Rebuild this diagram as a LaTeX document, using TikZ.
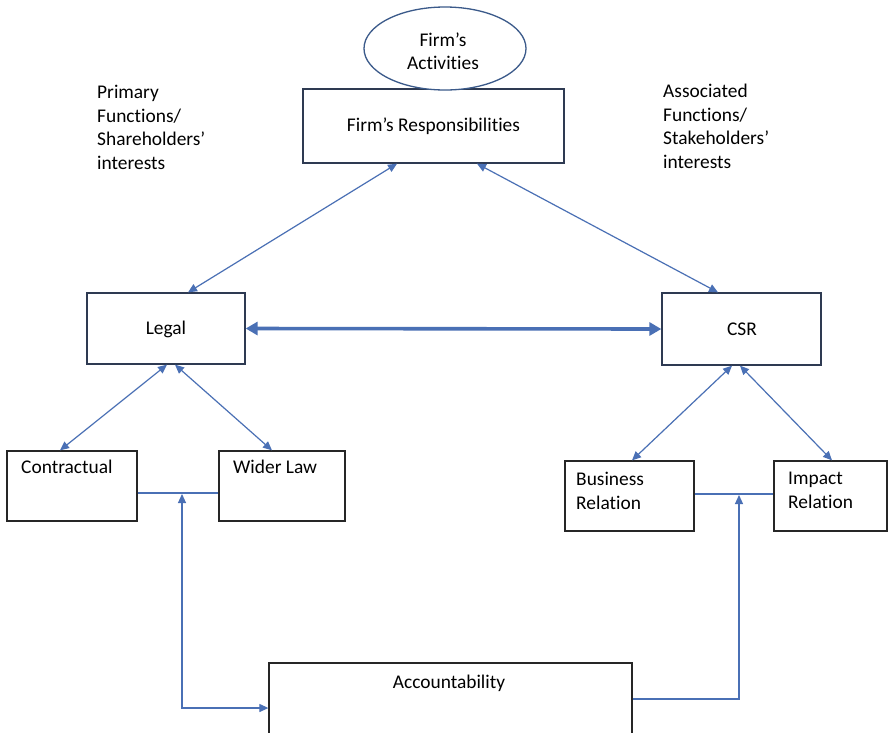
\documentclass[tikz,border=0pt]{standalone}
\usepackage{fontspec}
\setmainfont{Carlito}[Ligatures={NoCommon,NoContextual}]
\usetikzlibrary{shapes.geometric,arrows.meta}
\definecolor{arrblue}{HTML}{4A70B5}
\definecolor{boxedge}{HTML}{2E3A52}
\definecolor{elledge}{HTML}{3B5A8A}
\tikzset{
  txt/.style={font=\fontsize{19.4}{23.5}\selectfont, inner sep=0pt, text=black},
  boxnode/.style={draw=boxedge, line width=1.3pt, rectangle, inner sep=0pt, fill=white},
  lowbox/.style={draw=black!85, line width=1.3pt, rectangle, inner sep=0pt, fill=white},
  conn/.style={draw=arrblue, line width=1.2pt},
  tipboth/.style={conn, {Triangle[length=9pt,width=8pt]}-{Triangle[length=9pt,width=8pt]}},
  tipend/.style={conn, -{Triangle[length=9pt,width=8pt]}},
  thickboth/.style={draw=arrblue, line width=3.6pt, {Triangle[length=12pt,width=13pt]}-{Triangle[length=12pt,width=13pt]}}
}
\begin{document}
\begin{tikzpicture}[x=1pt,y=-1pt]
\clip (0,0) rectangle (888,732);
\fill[white] (0,0) rectangle (888,732);

% boxes
\node[boxnode, minimum width=261pt, minimum height=74pt] (resp) at (433.5,126) {};
\node[draw=elledge, line width=1.3pt, ellipse, fill=white, minimum width=162pt, minimum height=83pt, inner sep=0pt] (act) at (445,48.5) {};
\node[boxnode, minimum width=158pt, minimum height=71pt] (legal) at (166,328.5) {};
\node[boxnode, minimum width=159pt, minimum height=72pt] (csr) at (741.5,329) {};
\node[lowbox, minimum width=130pt, minimum height=70pt] (contr) at (72,486) {};
\node[lowbox, minimum width=126pt, minimum height=70pt] (wider) at (282,486) {};
\node[lowbox, minimum width=129pt, minimum height=70pt] (bus) at (629.5,496) {};
\node[lowbox, minimum width=113pt, minimum height=70pt] (imp) at (830.5,496) {};
\node[lowbox, minimum width=363pt, minimum height=97pt] (acc) at (450.5,711.5) {};

% texts
\node[txt, align=center] (acttxt) at (443,51) {Firm’s\\Activities};
\node[txt] (resptxt) at (433.5,126) {Firm’s Responsibilities};
\node[txt] (legaltxt) at (166,329) {Legal};
\node[txt] (csrtxt) at (742,329) {CSR};
\node[txt, anchor=base west] (contrtxt) at (21,473) {Contractual};
\node[txt, anchor=base west] (widertxt) at (233,473) {Wider Law};
\node[txt, anchor=north west, align=left] (bustxt) at (576,472) {Business\\Relation};
\node[txt, anchor=north west, align=left] (imptxt) at (788,472) {Impact\\Relation};
\node[txt] (acctxt) at (449,683) {Accountability};
\node[txt, anchor=north west, align=left] (primtxt) at (97,85) {Primary\\Functions/\\Shareholders’\\interests};
\node[txt, anchor=north west, align=left] (assoctxt) at (663,84) {Associated\\Functions/\\Stakeholders’\\interests};

% connectors
\draw[tipboth] ([xshift=-36.5pt]resp.south) -- ([xshift=22pt]legal.north);
\draw[tipboth] ([xshift=43.5pt]resp.south) -- ([xshift=-23.5pt]csr.north);
\draw[thickboth] (legal.east) -- (csr.west);
\draw[tipboth] ([xshift=1pt]legal.south) -- ([xshift=-12pt]contr.north);
\draw[tipboth] ([xshift=9pt]legal.south) -- ([xshift=-10pt]wider.north);
\draw[tipboth] ([xshift=-9.5pt]csr.south) -- ([xshift=2.5pt]bus.north);
\draw[tipboth] ([xshift=-1.5pt]csr.south) -- ([xshift=1.5pt]imp.north);

\coordinate (lj) at (182,493);
\coordinate (lbend) at (182,708);
\draw[conn] (contr.east |- lj) -- (wider.west |- lj);
\draw[tipboth] ([yshift=-1pt]lj) -- (lbend) -- (acc.west |- lbend);

\coordinate (rj) at (739,494);
\coordinate (rbend) at (739,699);
\draw[conn] (bus.east |- rj) -- (imp.west |- rj);
\draw[tipend] (acc.east |- rbend) -- (rbend) -- ([yshift=-1pt]rj);
\end{tikzpicture}
\end{document}
